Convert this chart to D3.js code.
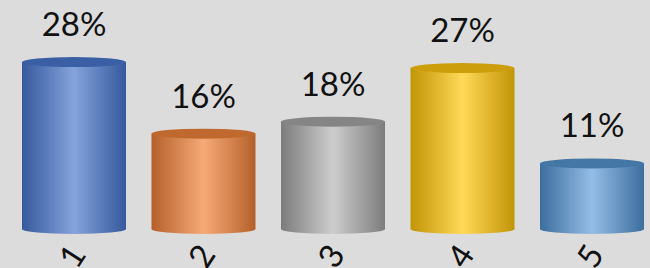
<!doctype html>
<html>
<head>
<meta charset="UTF-8">
<title>Cylinders</title>
<script src="https://d3js.org/d3.v7.min.js"></script>
<style>
  body { margin: 0; background: #dcdcdc; }
  svg { display: block; }
</style>
</head>
<body>
<script>
  var categories = ["1", "2", "3", "4", "5"];
  var values = [28, 16, 18, 27, 11];
  var labels = ["28%", "16%", "18%", "27%", "11%"];
  var darks = ["#35599c", "#b5602a", "#7c7c7c", "#c29406", "#3d6e9e"];
  var lights = ["#85a3dc", "#f6aa76", "#cdcdcd", "#ffd958", "#93bde6"];
  var tops = ["#3a5fa4", "#c0692f", "#858585", "#cc9e0c", "#4476a6"];

  var w = 650, h = 268, base = 229, ry = 5;

  var svg = d3.select("body").append("svg")
      .attr("width", w).attr("height", h);

  svg.append("rect").attr("width", w).attr("height", h).attr("fill", "#dcdcdc");

  var x = d3.scaleBand().domain(categories).range([22, 644])
      .paddingInner(0.197).paddingOuter(0);
  var y = d3.scaleLinear().domain([0, 30]).range([base, base - 30 * 5.96]);

  var defs = svg.append("defs");
  categories.forEach(function(c, i) {
    var g = defs.append("linearGradient").attr("id", "g" + i)
        .attr("x1", "0").attr("x2", "1").attr("y1", "0").attr("y2", "0");
    g.append("stop").attr("offset", "0").attr("stop-color", darks[i]);
    g.append("stop").attr("offset", "0.5").attr("stop-color", lights[i]);
    g.append("stop").attr("offset", "1").attr("stop-color", darks[i]);
  });

  var bars = svg.selectAll("g.bar").data(values).enter()
      .append("g").attr("class", "bar");

  // bottom ellipse
  bars.append("ellipse")
      .attr("cx", function(d, i) { return x(categories[i]) + x.bandwidth() / 2; })
      .attr("cy", base)
      .attr("rx", x.bandwidth() / 2)
      .attr("ry", ry)
      .attr("fill", function(d, i) { return "url(#g" + i + ")"; });

  bars.append("rect")
      .attr("x", function(d, i) { return x(categories[i]); })
      .attr("y", function(d) { return y(d); })
      .attr("width", x.bandwidth())
      .attr("height", function(d) { return base - y(d); })
      .attr("fill", function(d, i) { return "url(#g" + i + ")"; });

  // top ellipse
  bars.append("ellipse")
      .attr("cx", function(d, i) { return x(categories[i]) + x.bandwidth() / 2; })
      .attr("cy", function(d) { return y(d); })
      .attr("rx", x.bandwidth() / 2)
      .attr("ry", ry)
      .attr("fill", function(d, i) { return tops[i]; });

  // value labels
  svg.selectAll("text.val").data(values).enter()
      .append("text").attr("class", "val")
      .attr("x", function(d, i) { return x(categories[i]) + x.bandwidth() / 2; })
      .attr("y", function(d) { return y(d) - 26; })
      .attr("text-anchor", "middle")
      .attr("font-family", "Lato, 'Open Sans', sans-serif")
      .attr("font-size", 33)
      .attr("fill", "#111")
      .text(function(d, i) { return labels[i]; });

  // category labels, rotated
  svg.selectAll("text.cat").data(categories).enter()
      .append("text").attr("class", "cat")
      .attr("transform", function(d) {
        return "translate(" + (x(d) + x.bandwidth() / 2 - 2) + "," + 256 + ") rotate(-57)";
      })
      .attr("text-anchor", "middle")
      .attr("dy", "0.36em")
      .attr("font-family", "Lato, 'Open Sans', sans-serif")
      .attr("font-size", 33)
      .attr("fill", "#111")
      .text(function(d) { return d; });
</script>
</body>
</html>
